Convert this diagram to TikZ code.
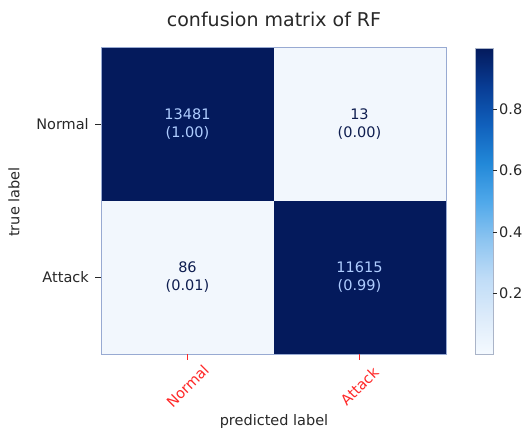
\documentclass[tikz,border=0pt]{standalone}
\usepackage{fontspec}
\setmainfont{DejaVu Sans}
\usetikzlibrary{positioning}

\definecolor{cmdark}{HTML}{041A5C}
\definecolor{cmlight}{HTML}{F2F7FD}
\definecolor{cmtxtlight}{HTML}{AFCDFF}
\definecolor{cmtxtdark}{HTML}{0F1E50}
\definecolor{cmframe}{HTML}{98AAD2}
\definecolor{cbframe}{HTML}{AAB4C8}
\definecolor{labgray}{HTML}{282828}
\definecolor{cmred}{HTML}{FF2828}
\definecolor{cba}{HTML}{F5FAFF}
\definecolor{cbb}{HTML}{DCEBFA}
\definecolor{cbc}{HTML}{BFDCF7}
\definecolor{cbd}{HTML}{8CC4F0}
\definecolor{cbe}{HTML}{4FA8EA}
\definecolor{cbf}{HTML}{2288D8}
\definecolor{cbg}{HTML}{1060BC}
\definecolor{cbh}{HTML}{083C94}
\definecolor{cbi}{HTML}{041A5C}

\pgfdeclareverticalshading{cmblues}{100bp}{color(0bp)=(cba); color(25bp)=(cba);
  color(31.25bp)=(cbb); color(37.5bp)=(cbc); color(43.75bp)=(cbd); color(50bp)=(cbe);
  color(56.25bp)=(cbf); color(62.5bp)=(cbg); color(68.75bp)=(cbh); color(75bp)=(cbi);
  color(100bp)=(cbi)}

\begin{document}
\begin{tikzpicture}[x=1pt,y=-1pt,
    cell/.style={minimum width=172pt,minimum height=153.5pt,inner sep=0pt,align=center,
      font=\fontsize{14.5}{18}\selectfont},
    lbl/.style={text=labgray,font=\fontsize{14.5}{17}\selectfont}]

  \useasboundingbox[fill=white] (0,0) rectangle (528,434);

  % Title
  \node[text=labgray,font=\fontsize{19}{21}\selectfont] (title) at (274,19) {confusion matrix of RF};

  % Cells
  \node[cell,fill=cmdark,text=cmtxtlight] (nn) at (187.5,124) {13481\\(1.00)};
  \node[cell,fill=cmlight,text=cmtxtdark] (na) at (359.5,124) {13\\(0.00)};
  \node[cell,fill=cmlight,text=cmtxtdark] (an) at (187.5,277.5) {86\\(0.01)};
  \node[cell,fill=cmdark,text=cmtxtlight] (aa) at (359.5,277.5) {11615\\(0.99)};
  \draw[cmframe] (nn.north west) rectangle (aa.south east);

  % True label ticks
  \draw[labgray] (nn.west) -- ++(-6,0);
  \draw[labgray] (an.west) -- ++(-6,0);
  \node[lbl,anchor=east] (ynorm) at ([xshift=-9pt]nn.west) {Normal};
  \node[lbl,anchor=east] (yatt) at ([xshift=-9pt]an.west) {Attack};
  \node[lbl,rotate=90] (ytitle) at (14,202) {true label};

  % Predicted label ticks
  \draw[cmred] (an.south) -- ++(0,6);
  \draw[cmred] (aa.south) -- ++(0,6);
  \node[lbl,text=cmred,rotate=45] (xnorm) at (187.5,386) {Normal};
  \node[lbl,text=cmred,rotate=45] (xatt) at (359.5,386) {Attack};
  \node[lbl] (xtitle) at (274,421) {predicted label};

  % Colour bar
  \node[draw=cbframe,shading=cmblues,minimum width=18pt,minimum height=306.5pt,inner sep=0pt]
    (cbar) at (484,201.25) {};
  \foreach \v/\n [evaluate=\v as \yy using 354.5-306.5*\v] in {0.2/a,0.4/b,0.6/c,0.8/d}{
    \draw[labgray] (493,\yy) -- (497,\yy) node[lbl,anchor=west,inner sep=2pt] (tick\n) {\v};
  }

\end{tikzpicture}
\end{document}
